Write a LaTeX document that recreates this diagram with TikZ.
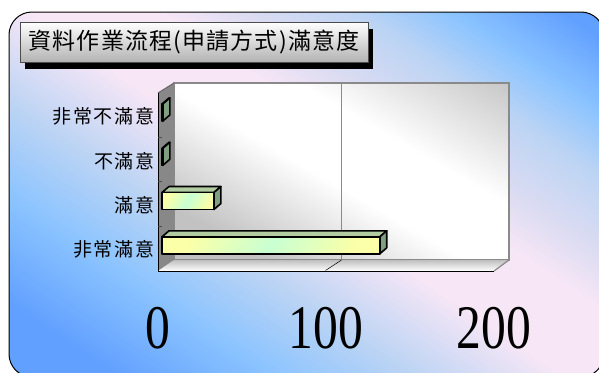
\documentclass[tikz,border=0pt]{standalone}
\usepackage{fontspec}
\usepackage{tikz}
\usetikzlibrary{shadows}

\setmainfont{Liberation Serif}
\newfontfamily\titlefont[LetterSpace=5]{Noto Sans CJK TC}
\newfontfamily\catfont[LetterSpace=10]{Noto Sans CJK TC}
\newfontfamily\valuefont[FakeStretch=0.8]{Liberation Serif}

\definecolor{bgBlue}{HTML}{62A0FF}
\definecolor{bgMid}{HTML}{8CC4FF}
\definecolor{bgLight}{HTML}{BCD4F4}
\definecolor{bgPink}{HTML}{F6E6F6}
\definecolor{bgLav}{HTML}{DCDCF2}
\definecolor{wallGray}{HTML}{8A8A8A}
\definecolor{wallDark}{HTML}{C2C2C2}
\definecolor{sideGray}{HTML}{888888}
\definecolor{barYellow}{HTML}{FAFFA8}
\definecolor{barGreen}{HTML}{C8FFD2}
\definecolor{barTop}{HTML}{B2CBA0}
\definecolor{barSide}{HTML}{7F9F80}

\pgfdeclareverticalshading{bgshade}{100bp}{color(0bp)=(bgBlue); color(30bp)=(bgBlue);
  color(37bp)=(bgMid); color(43bp)=(bgLight); color(49.5bp)=(bgPink); color(55.5bp)=(bgPink);
  color(59bp)=(bgLav); color(64bp)=(bgLight); color(68bp)=(bgMid); color(73bp)=(bgBlue);
  color(100bp)=(bgBlue)}
\pgfdeclareverticalshading{wallshade}{100bp}{color(0bp)=(wallDark); color(33bp)=(wallDark);
  color(48bp)=(white); color(58bp)=(white); color(75bp)=(wallDark); color(100bp)=(wallDark)}

\begin{document}
\begin{tikzpicture}[x=1pt, y=-1pt]
  \tikzstyle{titleBox} = [draw=black!70, line width=0.8pt, top color=white, bottom color=black!30, minimum width=348pt, minimum height=40pt, inner sep=0pt, font={\titlefont\fontsize{23}{23}\selectfont}, drop shadow={shadow xshift=5pt, shadow yshift=-7pt, fill=black, opacity=1}];
  \tikzstyle{catLabel} = [anchor=east, inner sep=0pt, font={\catfont\fontsize{19}{19}\selectfont}];
  \tikzstyle{valueLabel} = [anchor=base, inner sep=0pt, font={\valuefont\fontsize{62}{62}\selectfont}];
  \tikzstyle{barEdge} = [draw=black, line width=1.6pt, line join=round];
  \tikzstyle{wallEdge} = [draw=wallGray, line width=1.6pt];

  \useasboundingbox (0,0) rectangle (599,372);
  \clip (0,0) rectangle (599,372);

  % frame
  \begin{scope}
    \clip[rounded corners=23pt] (9,12) rectangle (604,377);
    \begin{scope}[transform canvas={shift={(306.5,194.5)}, rotate=-34}]
      \shade[shading=bgshade] (-400,-320) rectangle (400,320);
    \end{scope}
  \end{scope}
  \draw[black, line width=1pt, rounded corners=23pt] (9,12) rectangle (604,377);

  % walls and floor
  \begin{scope}
    \clip (174,83) rectangle (509,260);
    \begin{scope}[transform canvas={shift={(341.5,171.5)}, rotate=-30}]
      \shade[shading=wallshade] (-220,-170) rectangle (220,170);
    \end{scope}
  \end{scope}
  \draw[wallEdge] (174,83) rectangle (509,260);
  \fill[sideGray] (158,93) -- (174,83) -- (174,260) -- (158,271) -- cycle;
  \shade[top color=black!25, bottom color=white] (158,271) -- (174,260) -- (509,260) -- (494,271) -- cycle;
  \draw[black!60, line width=1pt] (158,93) -- (174,83);
  \draw[black, line width=1pt] (158,93) -- (158,271) -- (494,271);
  \draw[wallGray, line width=1.2pt] (494,271) -- (509,260);
  \foreach \y in {137.5,181.8,226}
    \draw[black!70, line width=0.8pt] (158,\y) -- (162,\y);

  % gridline at 100
  \draw[wallGray, line width=1.4pt] (341.5,83) -- (341.5,260);
  \draw[black, line width=0.5pt] (341.5,260) -- (325.5,270.5);

  % bars
  \foreach \val/\yc in {130/245.3, 31/201, 0.5/156.8, 0.5/112.5} {
    \pgfmathsetmacro\xe{162+1.675*\val}
    \filldraw[barEdge, fill=barTop] (162,\yc-8.5) -- (169,\yc-14.5) -- (\xe+7,\yc-14.5) -- (\xe,\yc-8.5) -- cycle;
    \filldraw[barEdge, fill=barSide] (\xe,\yc-8.5) -- (\xe+7,\yc-14.5) -- (\xe+7,\yc+2.5) -- (\xe,\yc+8.5) -- cycle;
    \shadedraw[barEdge, left color=barYellow, right color=barYellow, middle color=barGreen, shading angle=60] (162,\yc-8.5) rectangle (\xe,\yc+8.5);
  }

  % category labels
  \foreach \name/\txt/\yc in {lvA/非常不滿意/116.5, lvB/不滿意/160.8, lvC/滿意/205, lvD/非常滿意/249.3}
    \node[catLabel] (\name) at (155,\yc) {\txt};

  % axis values
  \node[valueLabel] (val0)   at (158,348) {0};
  \node[valueLabel] (val100) at (326,348) {100};
  \node[valueLabel] (val200) at (494,348) {200};

  % title
  \node[titleBox] (title) at (194,42) {\raisebox{-3pt}{資料作業流程(申請方式)滿意度}};
\end{tikzpicture}
\end{document}
